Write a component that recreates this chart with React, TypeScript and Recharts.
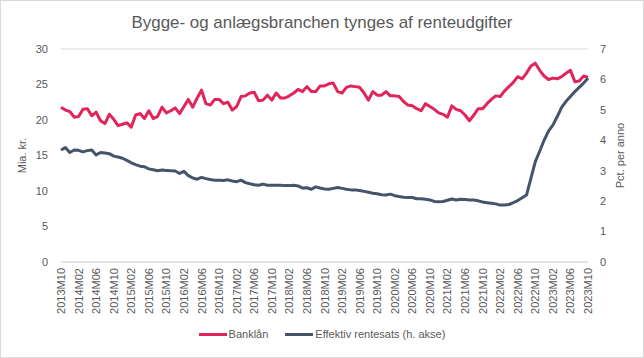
import React from "react";
import { LineChart, Line, XAxis, YAxis, CartesianGrid, Legend } from "recharts";

// Monthly observations 2013M10 – 2023M10
const startYear = 2013;
const startMonth = 10;

const bankLaan = [
  21.8, 21.4, 21.2, 20.4, 20.5, 21.5, 21.6, 20.6, 21.1, 19.9,
  19.5, 20.8, 20.1, 19.2, 19.4, 19.6, 19.0, 20.7, 20.9, 20.2,
  21.3, 20.2, 20.5, 21.8, 21.0, 21.3, 21.7, 20.9, 21.9, 22.9,
  21.8, 23.1, 24.2, 22.3, 22.1, 22.9, 22.9, 22.3, 22.5, 21.4,
  21.9, 23.3, 23.4, 23.8, 23.9, 22.7, 22.8, 23.5, 22.8, 23.8,
  23.1, 23.1, 23.4, 23.8, 24.3, 24.0, 24.7, 24.0, 24.0, 24.8,
  24.8, 25.1, 25.2, 24.0, 23.8, 24.6, 24.8, 24.7, 24.6, 23.8,
  22.8, 24.0, 23.5, 23.5, 24.0, 23.4, 23.4, 23.3, 22.6, 22.1,
  22.0, 21.6, 21.3, 22.3, 21.9, 21.5, 21.0, 20.8, 20.4, 22.0,
  21.5, 21.3, 20.7, 19.9, 20.7, 21.6, 21.6, 22.3, 22.9, 23.4,
  23.3, 24.1, 24.7, 25.3, 26.1, 25.8, 26.6, 27.6, 28.0, 27.0,
  26.2, 25.7, 25.9, 25.8, 26.1, 26.6, 27.0, 25.4, 25.5, 26.2,
  26.0,
];

const rentesats = [
  3.68, 3.76, 3.60, 3.68, 3.67, 3.62, 3.66, 3.68, 3.52, 3.60,
  3.58, 3.56, 3.48, 3.45, 3.41, 3.34, 3.26, 3.20, 3.15, 3.13,
  3.06, 3.03, 3.00, 3.02, 3.01, 3.00, 2.99, 2.91, 2.98, 2.84,
  2.76, 2.72, 2.78, 2.74, 2.71, 2.69, 2.69, 2.68, 2.70, 2.66,
  2.64, 2.69, 2.61, 2.57, 2.54, 2.52, 2.56, 2.52, 2.52, 2.52,
  2.52, 2.51, 2.51, 2.52, 2.50, 2.43, 2.44, 2.39, 2.47, 2.43,
  2.40, 2.39, 2.42, 2.45, 2.42, 2.39, 2.37, 2.37, 2.35, 2.32,
  2.29, 2.26, 2.24, 2.21, 2.20, 2.23, 2.18, 2.15, 2.13, 2.12,
  2.12, 2.08, 2.08, 2.06, 2.04, 1.99, 1.98, 1.99, 2.03, 2.07,
  2.04, 2.06, 2.05, 2.04, 2.04, 2.01, 1.97, 1.95, 1.93, 1.91,
  1.87, 1.87, 1.89, 1.95, 2.02, 2.11, 2.20, 2.75, 3.30, 3.64,
  4.00, 4.30, 4.50, 4.78, 5.08, 5.28, 5.44, 5.60, 5.74, 5.88,
  6.04,
];

const leftTicks = [0, 5, 10, 15, 20, 25, 30];
const rightTicks = [0, 1, 2, 3, 4, 5, 6, 7];

const months = bankLaan.map((_, i) => {
  const m = startMonth - 1 + i;
  const y = startYear + Math.floor(m / 12);
  return `${y}M${String((m % 12) + 1).padStart(2, "0")}`;
});

const data = months.map((month, i) => ({
  month,
  bank: bankLaan[i],
  rente: rentesats[i],
}));

const RED = "#E1245A";
const SLATE = "#44546A";
const GREY = "#595959";
const FONT = "'Liberation Sans', Arial, sans-serif";

function MonthTick({ x, y, payload }: any) {
  return (
    <text
      x={x}
      y={y}
      transform={`rotate(-90 ${x} ${y})`}
      textAnchor="end"
      dominantBaseline="central"
      fill={GREY}
      fontSize={11}
      fontFamily={FONT}
    >
      {payload.value}
    </text>
  );
}

function LegendBox() {
  const items = [
    { label: "Banklån", color: RED },
    { label: "Effektiv rentesats (h. akse)", color: SLATE },
  ];
  return (
    <div style={{ display: "flex", justifyContent: "center", gap: 17, fontFamily: FONT, fontSize: 11, color: GREY }}>
      {items.map((it) => (
        <div key={it.label} style={{ display: "flex", alignItems: "center" }}>
          <span style={{ display: "inline-block", width: 28, height: 3, background: it.color, marginRight: 2 }} />
          <span>{it.label}</span>
        </div>
      ))}
    </div>
  );
}

export default function App() {
  return (
    <div style={{ position: "absolute", top: 0, left: 0, width: 644, height: 358, background: "#fff" }}>
      <svg width={644} height={40} style={{ position: "absolute", top: 0, left: 0 }}>
        <text
          x={322}
          y={28}
          textAnchor="middle"
          fontSize={17}
          fontFamily={FONT}
          fill={GREY}
          textLength={381}
          lengthAdjust="spacingAndGlyphs"
        >
          Bygge- og anlægsbranchen tynges af renteudgifter
        </text>
      </svg>
      <LineChart width={644} height={358} data={data} margin={{ top: 49, right: 0, bottom: 0, left: 0 }}>
        <CartesianGrid vertical={false} stroke="#d9d9d9" />
        <XAxis
          dataKey="month"
          interval={3}
          height={66}
          tickLine={false}
          axisLine={{ stroke: "#d9d9d9" }}
          tickMargin={0}
          tick={<MonthTick />}
        />
        <YAxis
          yAxisId="left"
          domain={[0, 30]}
          ticks={leftTicks}
          width={61}
          axisLine={false}
          tickLine={false}
          tickMargin={7}
          tick={{ fill: GREY, fontSize: 11, fontFamily: FONT }}
          label={{ value: "Mia. kr.", angle: -90, position: "center", dx: -8, fill: GREY, fontSize: 11, fontFamily: FONT }}
        />
        <YAxis
          yAxisId="right"
          orientation="right"
          domain={[0, 7]}
          ticks={rightTicks}
          width={56}
          axisLine={false}
          tickLine={false}
          tickMargin={6}
          tick={{ fill: GREY, fontSize: 11, fontFamily: FONT }}
          label={{ value: "Pct. per anno", angle: -90, position: "center", dx: 4, fill: GREY, fontSize: 11, fontFamily: FONT }}
        />
        <Legend verticalAlign="bottom" height={30} content={<LegendBox />} />
        <Line
          yAxisId="left"
          dataKey="bank"
          name="Banklån"
          stroke={RED}
          strokeWidth={3}
          strokeLinejoin="round"
          dot={false}
          isAnimationActive={false}
        />
        <Line
          yAxisId="right"
          dataKey="rente"
          name="Effektiv rentesats (h. akse)"
          stroke={SLATE}
          strokeWidth={3}
          strokeLinejoin="round"
          dot={false}
          isAnimationActive={false}
        />
      </LineChart>
      <div
        style={{
          position: "absolute",
          top: 0,
          left: 0,
          width: 644,
          height: 358,
          boxSizing: "border-box",
          border: "1px solid #d9d9d9",
          pointerEvents: "none",
        }}
      />
    </div>
  );
}
